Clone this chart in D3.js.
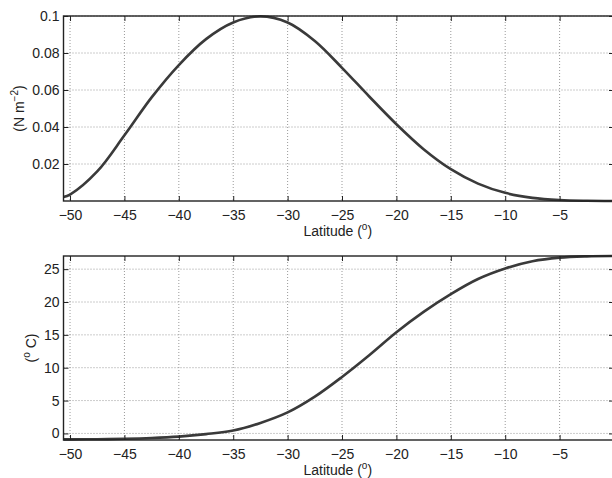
<!DOCTYPE html>
<html>
<head>
<meta charset="utf-8">
<script src="https://cdn.jsdelivr.net/npm/d3@7"></script>
<style>
  body { margin: 0; background: #fff; }
  svg { display: block; font-family: "Liberation Sans", Arial, sans-serif; }
</style>
</head>
<body>
<svg id="chart" width="612" height="478"></svg>
<script>
// latitude samples (degrees)
const lat = [-50.6, -50, -47.5, -45, -42.5, -40, -37.5, -35, -32.5, -30, -27.5,
  -25, -22.5, -20, -17.5, -15, -12.5, -10, -7.5, -5, -2.5, 0];
// wind stress (N m^-2)
const stress = [0.0022, 0.0035, 0.016, 0.0355, 0.056, 0.0735, 0.0875, 0.0965, 0.0998,
  0.0965, 0.0865, 0.072, 0.0565, 0.0415, 0.028, 0.0172, 0.0094, 0.0044, 0.0017,
  0.0005, 0.0001, 0];
// temperature (deg C)
const temp = [-0.9, -0.9, -0.88, -0.82, -0.7, -0.48, -0.1, 0.45, 1.6, 3.2, 5.6,
  8.6, 11.9, 15.4, 18.5, 21.2, 23.5, 25.1, 26.2, 26.75, 26.95, 27];

const xTicks = [-50, -45, -40, -35, -30, -25, -20, -15, -10, -5];
const stressTicks = [0.02, 0.04, 0.06, 0.08, 0.1];
const tempTicks = [0, 5, 10, 15, 20, 25];

const svg = d3.select("#chart");
const xLeft = 63.5, xRight = 614;

function panel(top, bottom, yDomain, yTicks, values, labelX, labelParts) {
  const x = d3.scaleLinear().domain([-50.6, 0]).range([xLeft, xRight]);
  const y = d3.scaleLinear().domain(yDomain).range([bottom, top]);
  const g = svg.append("g");

  // Grid
  g.append("g")
    .selectAll("line")
    .data(xTicks)
    .join("line")
    .attr("x1", d => x(d)).attr("x2", d => x(d))
    .attr("y1", top).attr("y2", bottom);
  g.append("g")
    .selectAll("line")
    .data(yTicks)
    .join("line")
    .attr("x1", xLeft).attr("x2", xRight)
    .attr("y1", d => y(d)).attr("y2", d => y(d));
  g.selectAll("line")
    .attr("stroke", "#999")
    .attr("stroke-width", 1)
    .attr("stroke-dasharray", "1,2");

  // Curve
  const line = d3.line()
    .x((d, i) => x(lat[i]))
    .y(d => y(d))
    .curve(d3.curveCatmullRom.alpha(0.5));
  g.append("path")
    .datum(values)
    .attr("d", line)
    .attr("fill", "none")
    .attr("stroke", "#3a3a3a")
    .attr("stroke-width", 2.6);

  // Axes (inward ticks on all four sides)
  g.append("g")
    .attr("transform", `translate(0,${bottom})`)
    .call(d3.axisBottom(x).tickValues(xTicks).tickSize(-5).tickPadding(9).tickFormat(d3.format("")))
    .call(a => a.select(".domain").remove());
  g.append("g")
    .attr("transform", `translate(0,${top})`)
    .call(d3.axisTop(x).tickValues(xTicks).tickSize(-5).tickFormat(""))
    .call(a => a.select(".domain").remove());
  g.append("g")
    .attr("transform", `translate(${xLeft},0)`)
    .call(d3.axisLeft(y).tickValues(yTicks).tickSize(-5).tickPadding(4).tickFormat(d => String(d)))
    .call(a => a.select(".domain").remove());
  g.append("g")
    .attr("transform", `translate(${xRight},0)`)
    .call(d3.axisRight(y).tickValues(yTicks).tickSize(-5).tickFormat(""))
    .call(a => a.select(".domain").remove());

  g.selectAll(".tick line")
    .attr("stroke", "#222")
    .attr("stroke-width", 1)
    .attr("stroke-dasharray", null);
  g.selectAll(".tick text")
    .attr("fill", "#222")
    .style("font-size", "14px")
    .style("font-family", "'Liberation Sans', Arial, sans-serif");

  // Box
  g.append("rect")
    .attr("x", xLeft).attr("y", top)
    .attr("width", xRight - xLeft).attr("height", bottom - top)
    .attr("fill", "none")
    .attr("stroke", "#222")
    .attr("stroke-width", 1.4);

  // X label
  const xl = g.append("text")
    .attr("x", (xLeft + xRight) / 2 - 1)
    .attr("y", bottom + 35)
    .attr("text-anchor", "middle")
    .attr("fill", "#222")
    .style("font-size", "14px");
  xl.append("tspan").text("Latitude (");
  xl.append("tspan").attr("dy", -6).style("font-size", "10px").text("o");
  xl.append("tspan").attr("dy", 6).text(")");

  // Y label
  const yl = g.append("text")
    .attr("transform", `translate(${labelX},${(top + bottom) / 2}) rotate(-90)`)
    .attr("text-anchor", "middle")
    .attr("fill", "#222")
    .style("font-size", "14px");
  labelParts.forEach(p => {
    const t = yl.append("tspan").text(p.text);
    if (p.sup) t.attr("dy", -6).style("font-size", "10px");
    if (p.down) t.attr("dy", 6);
  });
}

panel(16, 201, [0, 0.1], stressTicks, stress, 24,
  [{ text: "(N m" }, { text: "−2", sup: true }, { text: ")", down: true }]);
panel(256, 440, [-1, 27], tempTicks, temp, 36,
  [{ text: "(" }, { text: "o", sup: true }, { text: " C)", down: true }]);
</script>
</body>
</html>
